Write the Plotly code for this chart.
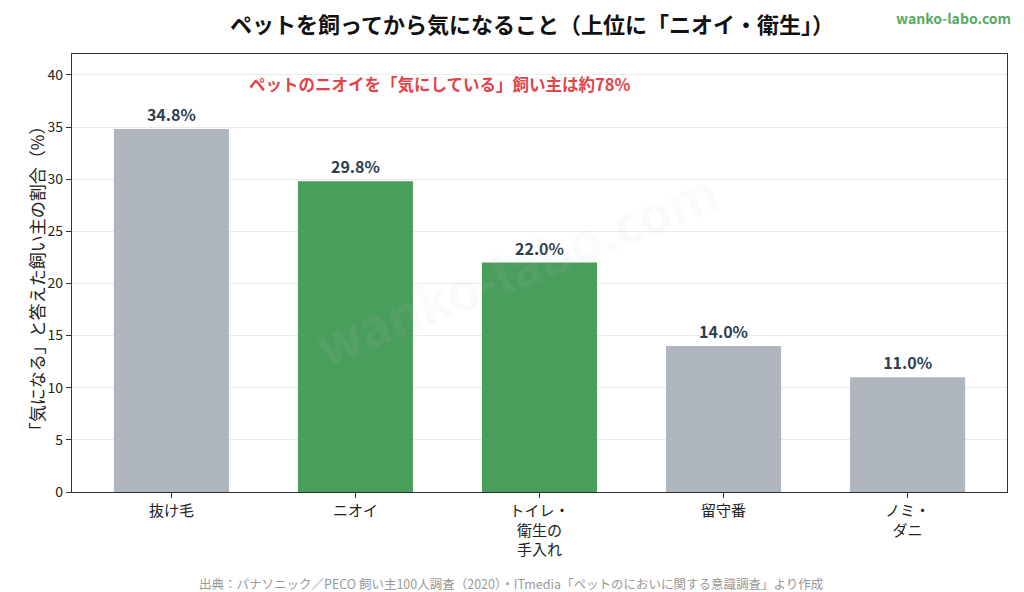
import plotly.graph_objects as go

categories = ["抜け毛", "ニオイ", "トイレ・<br>衛生の<br>手入れ", "留守番", "ノミ・<br>ダニ"]
values = [34.8, 29.8, 22.0, 14.0, 11.0]
highlight = [False, True, True, False, False]
y_ticks = [0, 5, 10, 15, 20, 25, 30, 35, 40]

GRAY = "#b0b6be"
GREEN = "#4a9e5c"
FONT = "Noto Sans CJK JP"

colors = [GREEN if h else GRAY for h in highlight]
labels = [f"{v:.1f}%" for v in values]

fig = go.Figure()
fig.add_trace(go.Bar(
    x=list(range(len(categories))), y=values,
    marker=dict(color=colors, line=dict(width=0)),
    width=0.625,
    text=labels, textposition="outside", cliponaxis=False,
    textfont=dict(family=FONT, size=16, color="#2d3e50", weight="bold"),
))

# page body has an 8px margin, so the figure is sized to fit the 1024x592 window
fig.update_layout(
    width=1016, height=584,
    margin=dict(l=64, r=17, t=46, b=100, autoexpand=False),
    paper_bgcolor="white", plot_bgcolor="white",
    font=dict(family=FONT, size=14, color="#222222"),
    showlegend=False,
    title=dict(text="ペットを飼ってから気になること（上位に「ニオイ・衛生」）",
               x=0.5157, xanchor="center", y=0.971, yanchor="middle",
               font=dict(family=FONT, size=22, color="#111111", weight="bold")),
    xaxis=dict(
        tickmode="array", tickvals=list(range(len(categories))), ticktext=categories,
        range=[-0.54, 4.54], showgrid=False, automargin=False,
        showline=True, linecolor="#333333", linewidth=1.2, mirror=True,
        ticks="outside", ticklen=5, tickcolor="#333333",
        tickfont=dict(family=FONT, size=15, color="#222222"),
    ),
    yaxis=dict(
        range=[0, 42], tickmode="array", tickvals=y_ticks, automargin=False,
        showgrid=True, gridcolor="#ebebeb", gridwidth=1,
        showline=True, linecolor="#333333", linewidth=1.2, mirror=True,
        ticks="outside", ticklen=5, tickcolor="#333333",
        tickfont=dict(family=FONT, size=14, color="#222222"),
        zeroline=False,
    ),
)

fig.add_annotation(
    text="wanko-labo.com",
    xref="paper", yref="paper", x=0.475, y=0.515, xanchor="center", yanchor="middle",
    showarrow=False, textangle=-22,
    font=dict(family=FONT, size=52, color="rgba(200,200,200,0.09)", weight="bold"),
)
fig.add_annotation(
    text="「気になる」と答えた飼い主の割合（%）",
    xref="paper", yref="paper", x=-0.0385, y=0.488, xanchor="center", yanchor="middle",
    showarrow=False, textangle=-90,
    font=dict(family=FONT, size=17, color="#222222"),
)
fig.add_annotation(
    text="ペットのニオイを「気にしている」飼い主は約78%",
    xref="paper", yref="paper", x=0.187, y=0.9315, xanchor="left", yanchor="middle",
    showarrow=False,
    font=dict(family=FONT, size=16.5, color="#e0454a", weight="bold"),
)
fig.add_annotation(
    text="wanko-labo.com",
    xref="paper", yref="paper", x=1.0053, y=1.0822, xanchor="right", yanchor="middle",
    showarrow=False, borderpad=0,
    font=dict(family=FONT, size=14, color="#5aa866", weight="bold"),
)
fig.add_annotation(
    text="出典：パナソニック／PECO 飼い主100人調査（2020）・ITmedia「ペットのにおいに関する意識調査」より作成",
    xref="paper", yref="paper", x=0.47, y=-0.2078, xanchor="center", yanchor="middle",
    showarrow=False,
    font=dict(family=FONT, size=12.5, color="#999999"),
)

fig.write_html("out.html")
